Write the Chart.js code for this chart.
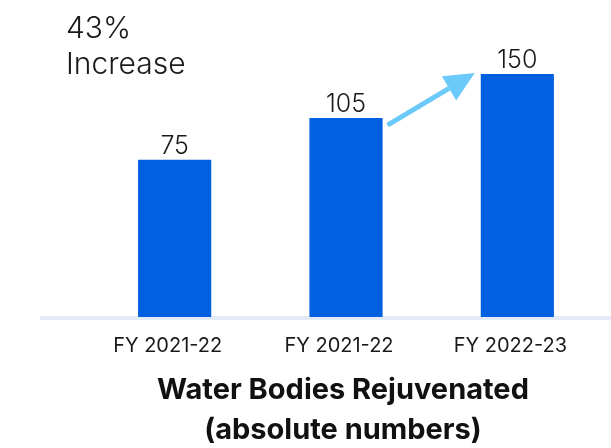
<!DOCTYPE html>
<html>
<head>
<meta charset="utf-8">
<script src="https://cdn.jsdelivr.net/npm/chart.js@4.4.0/dist/chart.umd.min.js"></script>
<style>
  html, body { margin: 0; padding: 0; background: #fff; }
  #wrap { width: 611px; height: 448px; }
</style>
</head>
<body>
<div id="wrap"><canvas id="waterChart"></canvas></div>
<script>
const years = ["FY 2021-22", "FY 2021-22", "FY 2022-23"];
const bodies = [75, 105, 150];
const growthText = ["43%", "Increase"];
const titleLines = ["Water Bodies Rejuvenated", "(absolute numbers)"];

const FONT = "Inter, 'Noto Sans', sans-serif";

// baseline, value labels, arrow and captions
const extras = {
    id: "extras",
    beforeDatasetsDraw(chart) {
        const ctx = chart.ctx;
        const y = chart.scales.y.getPixelForValue(chart.scales.y.min);
        ctx.save();
        ctx.fillStyle = "#e3ebf6";
        ctx.fillRect(40, y - 1, chart.width - 40, 4);
        ctx.restore();
    },
    afterDatasetsDraw(chart) {
        const ctx = chart.ctx;
        const bars = chart.getDatasetMeta(0).data;
        ctx.save();

        // numbers above bars
        ctx.fillStyle = "#1a1a1a";
        ctx.font = "300 25px " + FONT;
        ctx.textAlign = "center";
        ctx.textBaseline = "bottom";
        bars.forEach((b, i) => {
            ctx.fillText(bodies[i], b.x, b.y - 1);
        });

        // arrow from bar 2 to bar 3
        const b2 = bars[1], b3 = bars[2];
        const x1 = b2.x + b2.width / 2 + 5, y1 = b2.y + 7;
        const x2 = b3.x - b3.width / 2 - 6, y2 = b3.y - 1;
        const ang = Math.atan2(y2 - y1, x2 - x1);
        const headLen = 30, headW = 14;
        const bx = x2 - headLen * Math.cos(ang), by = y2 - headLen * Math.sin(ang);
        ctx.strokeStyle = "#6ccafa";
        ctx.fillStyle = "#6ccafa";
        ctx.lineWidth = 5;
        ctx.beginPath();
        ctx.moveTo(x1, y1);
        ctx.lineTo(bx, by);
        ctx.stroke();
        ctx.beginPath();
        ctx.moveTo(x2, y2);
        ctx.lineTo(bx + headW * Math.sin(ang), by - headW * Math.cos(ang));
        ctx.lineTo(bx - headW * Math.sin(ang), by + headW * Math.cos(ang));
        ctx.closePath();
        ctx.fill();

        // top-left caption
        ctx.fillStyle = "#1a1a1a";
        ctx.font = "300 30px " + FONT;
        ctx.textAlign = "left";
        ctx.textBaseline = "alphabetic";
        ctx.fillText(growthText[0], 66, 38);
        ctx.fillText(growthText[1], 66, 74);

        // bottom title
        const cx = (chart.chartArea.left + chart.chartArea.right) / 2;
        ctx.fillStyle = "#111";
        ctx.font = "bold 29px " + FONT;
        ctx.textAlign = "center";
        ctx.textBaseline = "middle";
        ctx.fillText(titleLines[0], cx - 3, 390);
        ctx.fillText(titleLines[1], cx - 3, 430);
        ctx.restore();
    }
};

new Chart("waterChart", {
    type: "bar",
    data: {
        labels: years,
        datasets: [{
            label: "Water bodies rejuvenated",
            data: bodies,
            backgroundColor: "#0060e0",
            barPercentage: 0.427,
            categoryPercentage: 1
        }]
    },
    options: {
        responsive: true,
        maintainAspectRatio: false,
        animation: false,
        layout: { padding: { left: 89, right: 8, top: 74, bottom: 73 } },
        plugins: {
            legend: { display: false },
            tooltip: { enabled: false }
        },
        scales: {
            x: {
                grid: { display: false, drawTicks: false },
                border: { display: false },
                ticks: { color: "#1a1a1a", font: { family: FONT, size: 20 }, padding: 17, labelOffset: -7 }
            },
            y: {
                type: "logarithmic",
                display: false,
                min: 21,
                max: 150
            }
        }
    },
    plugins: [extras]
});
</script>
</body>
</html>
